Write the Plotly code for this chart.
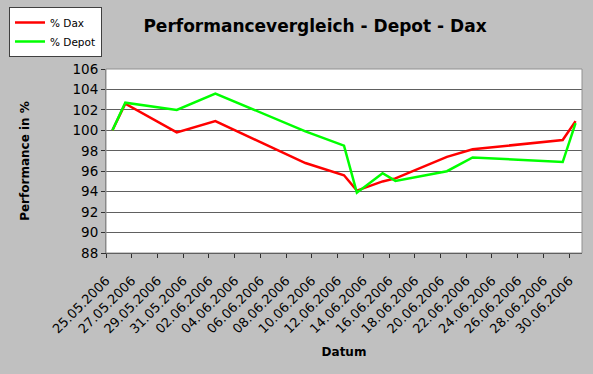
import plotly.graph_objects as go

dates = ["2006-05-25", "2006-05-26", "2006-05-30", "2006-06-02", "2006-06-09",
         "2006-06-12", "2006-06-13", "2006-06-15", "2006-06-16", "2006-06-20",
         "2006-06-22", "2006-06-29", "2006-06-30"]
dax = [100.0, 102.6, 99.8, 100.9, 96.8, 95.6, 94.1, 95.0, 95.3, 97.4, 98.15, 99.05, 100.9]
depot = [100.0, 102.7, 102.0, 103.6, 99.9, 98.5, 93.9, 95.8, 95.05, 96.0, 97.35, 96.9, 100.7]

DAY_MS = 86400000
FONT = "DejaVu Sans, Arial, sans-serif"

W, H = 593, 374
ML, MR, MT, MB = 106, 11, 69, 121
PW, PH = W - ML - MR, H - MT - MB

fig = go.Figure()
fig.add_trace(go.Scatter(x=dates, y=dax, name="% Dax", mode="lines",
                         line=dict(color="#FF0000", width=2.5),
                         xperiod=DAY_MS, xperiodalignment="middle"))
fig.add_trace(go.Scatter(x=dates, y=depot, name="% Depot", mode="lines",
                         line=dict(color="#00FF00", width=2.5),
                         xperiod=DAY_MS, xperiodalignment="middle"))

fig.update_layout(
    width=W, height=H,
    paper_bgcolor="#C0C0C0", plot_bgcolor="#FFFFFF",
    margin=dict(l=ML, r=MR, t=MT, b=MB, autoexpand=False),
    font=dict(family=FONT, size=13, color="#000000"),
    title=dict(text="<b>Performancevergleich - Depot - Dax</b>",
               font=dict(size=17, family=FONT, color="#000000"),
               x=315 / W, xanchor="center", xref="container",
               y=1 - 26 / H, yanchor="middle", yref="container"),
    showlegend=True,
    legend=dict(xref="paper", yref="paper",
                x=(9 - ML) / PW, y=1 + (MT - 7) / PH, xanchor="left", yanchor="top",
                bgcolor="#FFFFFF", bordercolor="#404040", borderwidth=1,
                font=dict(size=10.5, family=FONT), itemwidth=30,
                tracegroupgap=0),
    xaxis=dict(type="date", range=["2006-05-25", "2006-07-01"],
               tick0="2006-05-25", dtick=2 * DAY_MS, tickformat="%d.%m.%Y",
               tickangle=-45, ticks="outside", ticklen=4, tickcolor="#303030",
               ticklabelstandoff=10,
               showgrid=False, showline=True, linecolor="#303030", linewidth=1,
               tickfont=dict(size=13, family=FONT),
               title=dict(text="<b>Datum</b>", font=dict(size=12, family=FONT),
                          standoff=12),
               zeroline=False),
    yaxis=dict(range=[88, 106], dtick=2, tick0=88,
               ticks="outside", ticklen=4, tickcolor="#303030",
               showgrid=True, gridcolor="#606060", gridwidth=1,
               showline=True, linecolor="#808080", linewidth=1,
               tickfont=dict(size=13.5, family=FONT),
               title=dict(text="<b>Performance in %</b>", font=dict(size=12, family=FONT),
                          standoff=40),
               zeroline=False),
)

fig.add_shape(type="rect", xref="paper", yref="paper", x0=0, x1=1, y0=0, y1=1,
              line=dict(color="#909090", width=1), layer="above")

fig.write_html("out.html")
